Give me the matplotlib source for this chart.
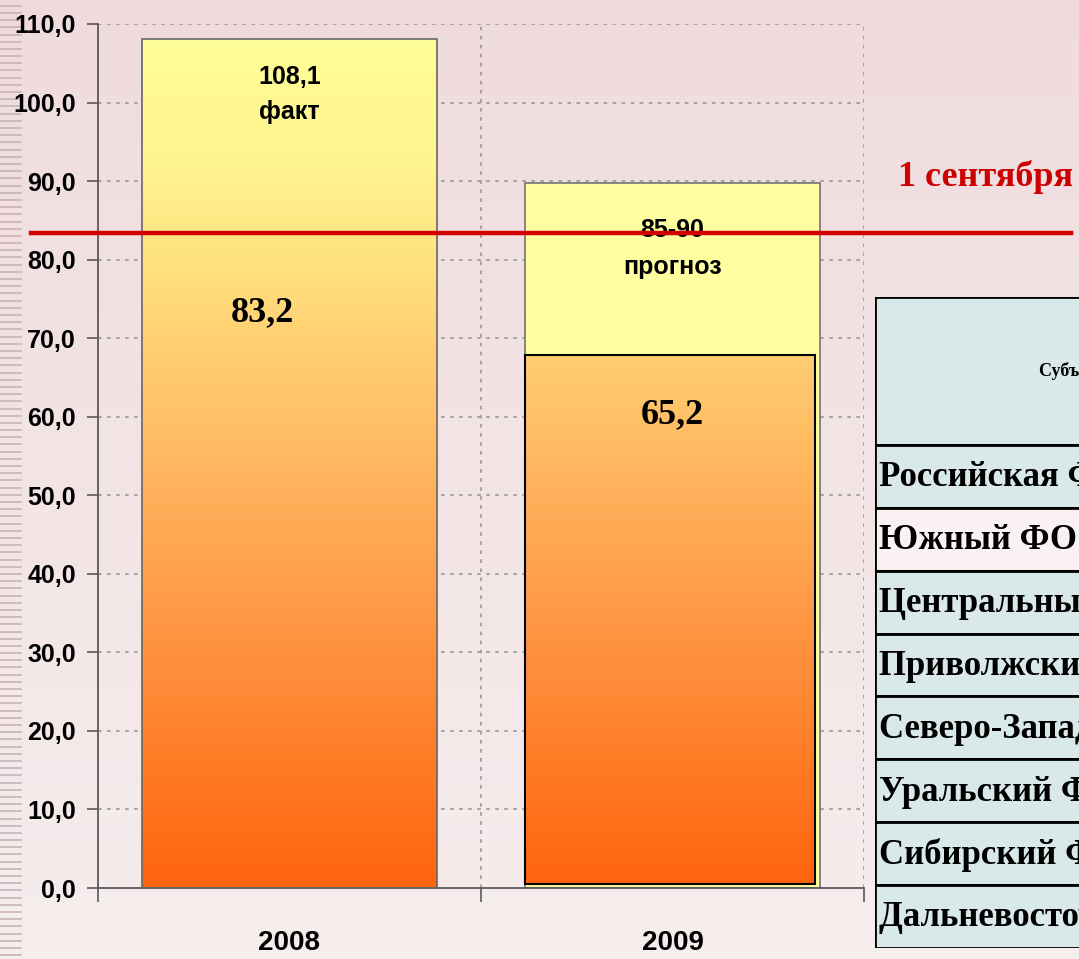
import numpy as np
import matplotlib.pyplot as plt
from matplotlib.colors import LinearSegmentedColormap
from matplotlib.patches import Rectangle

years = ["2008", "2009"]
fact_2008 = 108.1
forecast_2009 = 89.7
sept_values = [83.2, 67.3]
sept_labels = ["83,2", "65,2"]
top_labels = ["108,1\nфакт", "85-90\nпрогноз"]
line_level = 83.4
line_label = "1 сентября"
yticks = np.arange(0, 111, 10)
regions = ["Российская Федерация", "Южный ФО", "Центральный ФО", "Приволжский ФО",
           "Северо-Западный ФО", "Уральский ФО", "Сибирский ФО", "Дальневосточный ФО"]
header = "Субъекты РФ"

sans = ["Liberation Sans Narrow", "Liberation Sans", "DejaVu Sans"]
serif = ["Liberation Serif", "DejaVu Serif"]

fig = plt.figure(figsize=(10.79, 9.59), dpi=100)

# background gradient
bg = fig.add_axes([0, 0, 1, 1], zorder=-10)
grad = np.linspace(0, 1, 256).reshape(-1, 1)
bg_cmap = LinearSegmentedColormap.from_list("bg", [(0.94, 0.86, 0.87), (0.965, 0.93, 0.93)])
bg.imshow(grad, aspect="auto", cmap=bg_cmap, extent=[0, 1, 0, 1], origin="upper")
# striped strip on the left
for yy in np.arange(0.004, 1, 0.0075):
    bg.plot([0, 0.019], [yy, yy], color=(0.78, 0.7, 0.72), lw=1.2)
bg.set_xlim(0, 1)
bg.set_ylim(0, 1)
bg.axis("off")

ax = fig.add_axes([0.0908, 0.074, 0.7099, 0.901])
ax.patch.set_alpha(0)

# gradient used for the orange bars
cmap = LinearSegmentedColormap.from_list("bars", [
    (0.0, (1.0, 0.39, 0.05)),
    (0.35, (1.0, 0.62, 0.30)),
    (0.65, (1.0, 0.83, 0.46)),
    (0.82, (1.0, 0.95, 0.55)),
    (1.0, (1.0, 1.0, 0.60)),
])
vals = np.linspace(0, 1, 256).reshape(-1, 1)

w = 0.77
b1 = ax.bar(0, fact_2008, width=w, color="none", edgecolor=(0.4, 0.4, 0.4), lw=1.2, zorder=3)[0]
im = ax.imshow(vals, aspect="auto", cmap=cmap, origin="lower",
               extent=[-w / 2, w / 2, 0, 110], zorder=2)
im.set_clip_path(b1)

ax.bar(1, forecast_2009, width=w, color=(1.0, 1.0, 0.63), edgecolor=(0.45, 0.45, 0.45),
       lw=1.2, zorder=2)
b2 = ax.bar(1 - 0.007, sept_values[1], width=0.757, bottom=0.5, color="none",
            edgecolor="black", lw=1.5, zorder=4)[0]
im2 = ax.imshow(vals, aspect="auto", cmap=cmap, origin="lower",
                extent=[1 - w / 2, 1 + w / 2, 0, 110], zorder=3)
im2.set_clip_path(b2)
ax.set_xlim(-0.5, 1.5)
ax.set_ylim(0, 110)

# labels on bars
ax.text(0, 101.0, top_labels[0], ha="center", va="center", fontsize=18,
        fontweight="bold", family=sans, linespacing=1.6, zorder=5)
ax.text(1, 81.4, top_labels[1], ha="center", va="center", fontsize=18,
        fontweight="bold", family=sans, linespacing=1.7, zorder=5)
ax.text(-0.07, 73.2, sept_labels[0], ha="center", va="center", fontsize=26,
        fontweight="bold", family=serif, zorder=5)
ax.text(1, 60.3, sept_labels[1], ha="center", va="center", fontsize=26,
        fontweight="bold", family=serif, zorder=5)

# red line for 1 September
ax.plot([-0.087, 1.27], [line_level, line_level], color=(0.82, 0.0, 0.0), lw=3.2,
        transform=ax.get_yaxis_transform(), clip_on=False, zorder=6)
ax.text(1.045, 90.5, line_label, transform=ax.get_yaxis_transform(), color=(0.8, 0.0, 0.0),
        fontsize=26, fontweight="bold", family=serif, ha="left", va="center", clip_on=False)

# grid and axes
for v in yticks[1:]:
    ax.axhline(v, color=(0.62, 0.62, 0.62), lw=1.3, ls=(0, (2, 3)), zorder=1)
for xv in [0.5, 1.5]:
    ax.axvline(xv, color=(0.62, 0.62, 0.62), lw=1.3, ls=(0, (2, 3)), zorder=1)
ax.set_yticks(yticks)
ax.set_yticklabels([f"{v:.1f}".replace(".", ",") for v in yticks], fontsize=18,
                   fontweight="bold", family=sans)
ax.set_xticks([-0.5, 0.5, 1.5])
ax.set_xticklabels([])
ax.set_xticks([0, 1], minor=True)
ax.set_xticklabels(years, minor=True, fontsize=20, fontweight="bold", family=sans)
ax.tick_params(axis="x", which="minor", length=0, pad=30)
ax.tick_params(axis="x", which="major", length=10, width=1.2, color=(0.35, 0.35, 0.35))
ax.tick_params(axis="y", length=8, width=1.2, color=(0.35, 0.35, 0.35), pad=8)
for s in ["top", "right"]:
    ax.spines[s].set_visible(False)
for s in ["left", "bottom"]:
    ax.spines[s].set_color((0.35, 0.35, 0.35))
    ax.spines[s].set_linewidth(1.3)

# table on the right, cut off by the figure edge
tab = fig.add_axes([0.811, 0.0115, 0.4, 0.6785], zorder=5)
n = len(regions)
head_h = 148 / 63
tab.set_xlim(0, 1)
tab.set_ylim(0, n + head_h)
tab.axis("off")
tab.add_patch(Rectangle((0, n), 1, head_h, facecolor=(0.85, 0.91, 0.91),
                        edgecolor="black", lw=2))
tab.text(0.38, n + head_h / 2, header, fontsize=13, fontweight="bold", family=serif,
         ha="left", va="center")
for i, name in enumerate(regions):
    y0 = n - 1 - i
    fc = (0.98, 0.95, 0.95) if i == 1 else (0.85, 0.91, 0.91)
    tab.add_patch(Rectangle((0, y0), 1, 1, facecolor=fc, edgecolor="black", lw=2))
    tab.text(0.008, y0 + 0.48, name, fontsize=25, fontweight="bold", family=serif,
             ha="left", va="center")

fig.savefig("out.png", dpi=100)
